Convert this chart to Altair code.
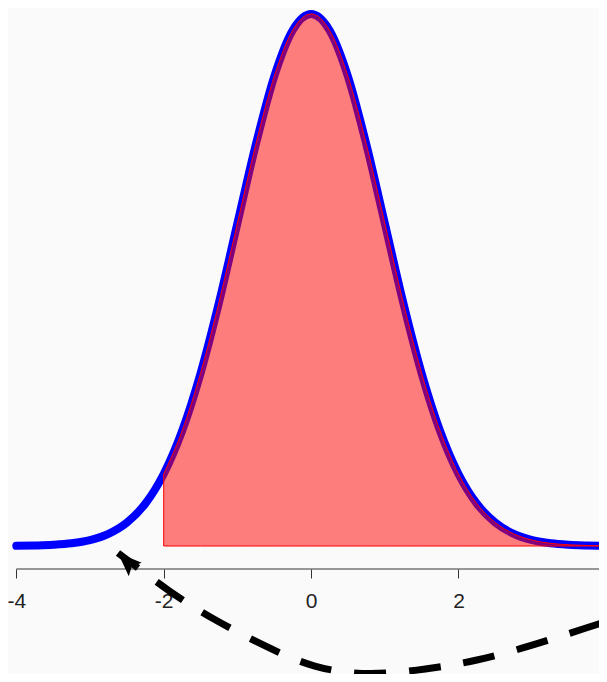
import altair as alt
import pandas as pd

# Normal density curve
curve_x = [-4, -3.75, -3.5, -3.25, -3, -2.75, -2.5, -2.25, -2, -1.75, -1.5, -1.25,
           -1, -0.75, -0.5, -0.25, 0, 0.25, 0.5, 0.75, 1, 1.25, 1.5, 1.75,
           2, 2.25, 2.5, 2.75, 3, 3.25, 3.5, 3.75, 4]
curve_y = [0.0001, 0.0004, 0.0009, 0.0020, 0.0044, 0.0091, 0.0175, 0.0317,
           0.0540, 0.0863, 0.1295, 0.1826, 0.2420, 0.3011, 0.3521, 0.3867,
           0.3989, 0.3867, 0.3521, 0.3011, 0.2420, 0.1826, 0.1295, 0.0863,
           0.0540, 0.0317, 0.0175, 0.0091, 0.0044, 0.0020, 0.0009, 0.0004, 0.0001]
shade_from = -2

# Dashed curved arrow below the axis
arrow_x = [-2.62, -1.94, -1.32, -0.65, 0.05, 0.80, 1.55, 2.25, 3.01, 3.73, 4.33]
arrow_y = [-0.0052, -0.0330, -0.0547, -0.0742, -0.0900, -0.0956, -0.0922,
           -0.0855, -0.0742, -0.0615, -0.0510]
head_x = [-2.62]
head_y = [-0.0052]

tick_values = [-4, -2, 0, 2, 4]

W, H = 591, 561
xdom = [-4.1126, 3.9064]
ydom = [-0.017245, 0.403389]

curve = pd.DataFrame({"x": curve_x, "y": curve_y})
arrow = pd.DataFrame({"x": arrow_x, "y": arrow_y})
head = pd.DataFrame({"x": head_x, "y": head_y})
axis_df = pd.DataFrame({"x": [min(tick_values)], "x2": [max(tick_values)]})

xs = alt.Scale(domain=xdom, nice=False, zero=False)
ys = alt.Scale(domain=ydom, nice=False, zero=False)

xaxis = alt.Axis(
    values=tick_values, domain=False, grid=False, ticks=True, tickSize=9,
    tickColor="#333333", tickWidth=1, labelFontSize=21,
    labelFont="Liberation Sans Narrow, Liberation Sans", labelFontWeight="normal",
    labelColor="#222222", labelPadding=12, labelOverlap=False, labelFlush=False,
    labelBound=False, labelExpr="'' + datum.value", title=None)
xenc = alt.X("x:Q", scale=xs, axis=xaxis)
yenc = alt.Y("y:Q", scale=ys, axis=None)

line = alt.Chart(curve).mark_line(
    color="#0000ff", strokeWidth=8, strokeCap="round", interpolate="monotone"
).encode(x=xenc, y=yenc)

area = alt.Chart(curve).transform_filter(
    alt.datum.x >= shade_from
).mark_area(
    color="#ff0000", fillOpacity=0.5, stroke="#ff0000", strokeWidth=1,
    interpolate="monotone"
).encode(x=xenc, y=yenc, y2=alt.datum(0))

axis_line = alt.Chart(axis_df).mark_rule(color="#333333", strokeWidth=1).encode(
    x=xenc, x2="x2:Q", y=alt.value(H))

arrow_line = alt.Chart(arrow).mark_line(
    color="#000000", strokeWidth=7, strokeDash=[32, 23], strokeDashOffset=7,
    strokeCap="butt", interpolate="natural"
).encode(x=xenc, y=yenc)

arrow_head = alt.Chart(head).mark_point(
    shape="M0,0L0.39,1L0,0.8L-0.39,1Z", size=2304, angle=314,
    filled=True, color="#000000", opacity=1, strokeWidth=0
).encode(x=xenc, y=yenc)

chart = alt.layer(line, area, axis_line, arrow_line, arrow_head).properties(
    width=W, height=H,
    autosize=alt.AutoSizeParams(type="none"),
    padding={"left": 0, "top": 0, "right": 0, "bottom": 105},
    background="#fafafa",
).configure_view(stroke=None)

chart.save("out.html", embed_options={"renderer": "svg", "actions": False})
